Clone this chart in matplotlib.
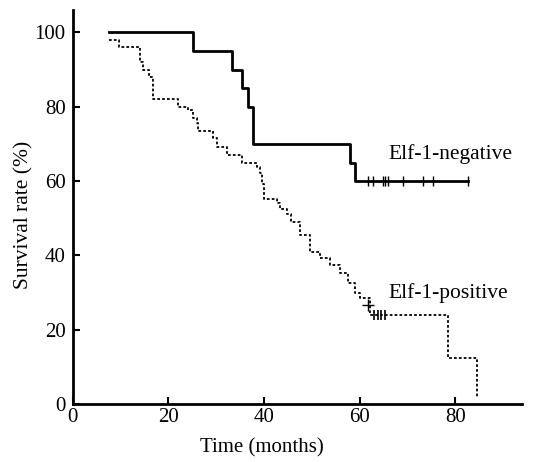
import matplotlib
matplotlib.use("Agg")
import matplotlib.pyplot as plt

# Elf-1-negative group (step times in months, survival % after the step)
neg_time = [7.7, 25.2, 33.3, 35.4, 36.6, 37.7, 58.0, 59.0, 82.6]
neg_surv = [100, 95, 90, 85, 80, 70, 65, 60, 60]
neg_cens_time = [61.7, 62.8, 64.9, 65.3, 65.9, 69.0, 73.2, 75.3, 82.6]
neg_cens_surv = [60, 60, 60, 60, 60, 60, 60, 60, 60]

# Elf-1-positive group
pos_time = [7.7, 9.6, 14.0, 14.7, 15.9, 16.8, 22.0, 24.1, 25.1, 26.0, 26.2,
            29.3, 30.1, 32.2, 35.4, 38.5, 39.1, 39.5, 40.1, 42.7, 43.3, 44.8,
            45.6, 47.5, 49.6, 51.7, 53.8, 55.9, 57.6, 59.0, 60.1, 62.2, 78.5,
            84.5, 84.5]
pos_surv = [98, 96, 92, 90, 88, 82, 80, 79, 77, 75.5, 73.6,
            71.7, 69.3, 67.1, 65, 63.7, 62.3, 59.3, 55.3, 54, 52.6, 51.2,
            49, 45.4, 40.8, 39.2, 37.3, 35.2, 32.5, 30, 28.5, 23.9, 12.3,
            1.5, 1.5]
pos_cens_time = [61.8, 63.0, 63.9, 64.5, 65.3]
pos_cens_surv = [26.6, 23.9, 23.9, 23.9, 23.9]

plt.rcParams['font.family'] = ['Liberation Serif', 'DejaVu Serif']

fig = plt.figure(figsize=(5.36, 4.62), dpi=100)
ax = fig.add_axes([0.1356, 0.1255, 0.8384, 0.8525])

ax.step(neg_time, neg_surv, where='post', color='black', linewidth=2.0)
ax.plot(neg_cens_time, neg_cens_surv, linestyle='none', marker='|',
        markersize=7, markeredgewidth=1.0, color='black')

ax.step(pos_time, pos_surv, where='post', color='black', linewidth=1.3,
        linestyle=(0, (1.5, 1.2)))
ax.plot(pos_cens_time[:1], pos_cens_surv[:1], linestyle='none', marker='+',
        markersize=8, markeredgewidth=1.0, color='black')
ax.plot(pos_cens_time[1:], pos_cens_surv[1:], linestyle='none', marker='|',
        markersize=7, markeredgewidth=1.2, color='black')

ax.text(66, 67.4, 'Elf-1-negative', fontsize=15.5, va='center', ha='left')
ax.text(66, 30, 'Elf-1-positive', fontsize=15.5, va='center', ha='left')

ax.set_xlim(0, 94)
ax.set_ylim(0, 106)
ax.set_xticks([0, 20, 40, 60, 80])
ax.set_yticks([0, 20, 40, 60, 80, 100])
ax.tick_params(direction='in', length=5, width=1.5, labelsize=15, pad=3)
ax.tick_params(axis='y', pad=5)

for side in ['top', 'right']:
    ax.spines[side].set_visible(False)
for side in ['left', 'bottom']:
    ax.spines[side].set_linewidth(2.0)

ax.set_xlabel('Time (months)', fontsize=15)
ax.set_ylabel('Survival rate (%)', fontsize=15.5)
ax.xaxis.set_label_coords(0.421, -0.088)
ax.yaxis.set_label_coords(-0.088, 0.48)

fig.savefig('out.png', dpi=100)
